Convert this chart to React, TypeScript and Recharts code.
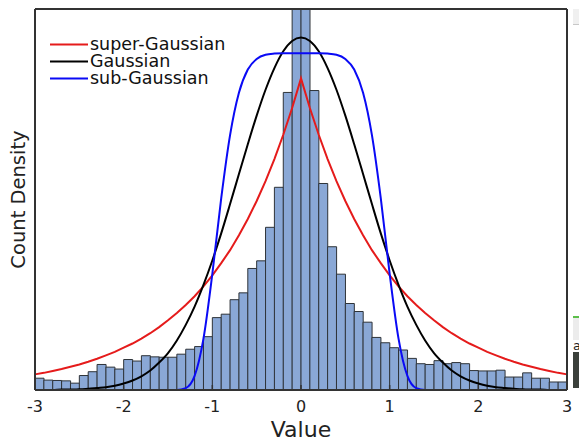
import { ComposedChart, Bar, Line, XAxis, YAxis, Legend } from 'recharts';

// histogram bins (centres) and their count densities
const binCenters = [
  -2.95, -2.85, -2.75, -2.65, -2.55, -2.45, -2.35, -2.25, -2.15, -2.05,
  -1.95, -1.85, -1.75, -1.65, -1.55, -1.45, -1.35, -1.25, -1.15, -1.05,
  -0.95, -0.85, -0.75, -0.65, -0.55, -0.45, -0.35, -0.25, -0.15, -0.05,
  0.05, 0.15, 0.25, 0.35, 0.45, 0.55, 0.65, 0.75, 0.85, 0.95,
  1.05, 1.15, 1.25, 1.35, 1.45, 1.55, 1.65, 1.75, 1.85, 1.95,
  2.05, 2.15, 2.25, 2.35, 2.45, 2.55, 2.65, 2.75, 2.85, 2.95,
];
const binCounts = [
  0.31, 0.26, 0.25, 0.24, 0.18, 0.38, 0.48, 0.67, 0.6, 0.55,
  0.8, 0.76, 0.9, 0.87, 0.86, 0.86, 0.94, 1.07, 1.14, 1.4,
  1.9, 1.99, 2.37, 2.55, 3.19, 3.39, 4.27, 5.32, 7.81, 11.5,
  11.5, 7.86, 5.42, 3.76, 3.04, 2.27, 2.06, 1.78, 1.38, 1.24,
  1.11, 1.05, 0.83, 0.69, 0.67, 0.77, 0.69, 0.72, 0.69, 0.51,
  0.5, 0.5, 0.52, 0.34, 0.34, 0.45, 0.31, 0.31, 0.21, 0.21,
];

// sample positions of the fitted curves
const curveX = [
  -3, -2.9, -2.8, -2.7, -2.6, -2.5, -2.4, -2.3, -2.2, -2.1,
  -2, -1.9, -1.8, -1.7, -1.6, -1.5, -1.4, -1.3, -1.2, -1.1,
  -1, -0.9, -0.8, -0.7, -0.6, -0.5, -0.4, -0.3, -0.2, -0.1,
  0,
  0.1, 0.2, 0.3, 0.4, 0.5, 0.6, 0.7, 0.8, 0.9, 1,
  1.1, 1.2, 1.3, 1.4, 1.5, 1.6, 1.7, 1.8, 1.9, 2,
  2.1, 2.2, 2.3, 2.4, 2.5, 2.6, 2.7, 2.8, 2.9, 3,
];
const superGaussian = [
  0.41, 0.45, 0.5, 0.55, 0.61, 0.67, 0.74, 0.82, 0.91, 1.0,
  1.11, 1.22, 1.35, 1.49, 1.65, 1.83, 2.02, 2.23, 2.46, 2.72,
  3.01, 3.33, 3.67, 4.06, 4.49, 4.96, 5.48, 6.06, 6.7, 7.4,
  8.18,
  7.4, 6.7, 6.06, 5.48, 4.96, 4.49, 4.06, 3.67, 3.33, 3.01,
  2.72, 2.46, 2.23, 2.02, 1.83, 1.65, 1.49, 1.35, 1.22, 1.11,
  1.0, 0.91, 0.82, 0.74, 0.67, 0.61, 0.55, 0.5, 0.45, 0.41,
];
const gaussian = [
  0, 0, 0, 0.01, 0.01, 0.02, 0.03, 0.05, 0.07, 0.11,
  0.17, 0.25, 0.36, 0.51, 0.72, 0.97, 1.3, 1.71, 2.19, 2.76,
  3.4, 4.11, 4.88, 5.67, 6.45, 7.2, 7.88, 8.45, 8.89, 9.16,
  9.25,
  9.16, 8.89, 8.45, 7.88, 7.2, 6.45, 5.67, 4.88, 4.11, 3.4,
  2.76, 2.19, 1.71, 1.3, 0.97, 0.72, 0.51, 0.36, 0.25, 0.17,
  0.11, 0.07, 0.05, 0.03, 0.02, 0.01, 0.01, 0, 0, 0,
];
const subGaussian = [
  0, 0, 0, 0, 0, 0, 0, 0, 0, 0,
  0, 0, 0, 0, 0, 0, 0, 0.05, 0.37, 1.35,
  3.05, 5.03, 6.69, 7.8, 8.41, 8.69, 8.8, 8.83, 8.84, 8.84,
  8.84,
  8.84, 8.84, 8.83, 8.8, 8.69, 8.41, 7.8, 6.69, 5.03, 3.05,
  1.35, 0.37, 0.05, 0, 0, 0, 0, 0, 0, 0,
  0, 0, 0, 0, 0, 0, 0, 0, 0, 0,
];

const xTicks = [-3, -2, -1, 0, 1, 2, 3];
const yTicks = [0, 1, 2, 3, 4, 5, 6, 7, 8, 9, 10];

const series = [
  { name: 'super-Gaussian', values: superGaussian, color: '#e51b1b', curve: 'linear' },
  { name: 'Gaussian', values: gaussian, color: '#000000', curve: 'monotone' },
  { name: 'sub-Gaussian', values: subGaussian, color: '#0a0af5', curve: 'monotone' },
];

const histData = binCenters.map((bin, i) => ({ bin, count: binCounts[i] }));
const toPoints = (vals: number[]) => curveX.map((x, i) => ({ x, y: vals[i] }));

const font = '"DejaVu Sans", "Liberation Sans", sans-serif';
const axisColor = '#333333';

const renderLegend = () => (
  <div style={{ fontFamily: font, fontSize: 17.5, color: '#111' }}>
    {series.map(s => (
      <div key={s.name} style={{ display: 'flex', alignItems: 'center', height: 17, whiteSpace: 'nowrap' }}>
        <svg width={38} height={17} style={{ display: 'block' }}>
          <line x1={0} y1={8.5} x2={38} y2={8.5} stroke={s.color} strokeWidth={2} />
        </svg>
        <span style={{ marginLeft: 2, lineHeight: '17px' }}>{s.name}</span>
      </div>
    ))}
  </div>
);

export default function App() {
  return (
    <div style={{ position: 'fixed', left: 0, top: 0, width: 579, height: 437, background: '#fff', overflow: 'hidden' }}>
      <ComposedChart
        width={579}
        height={437}
        data={histData}
        margin={{ top: 0, right: 0, bottom: 0, left: 0 }}
        barCategoryGap={0}
        barGap={0}
      >
        <XAxis
          xAxisId="v"
          dataKey="x"
          type="number"
          domain={[-3, 3]}
          ticks={xTicks}
          interval={0}
          orientation="bottom"
          height={47}
          tickSize={-5}
          tickMargin={16}
          axisLine={{ stroke: axisColor, strokeWidth: 2 }}
          tickLine={{ stroke: axisColor, strokeWidth: 1.5 }}
          tick={{ fontSize: 16, fontFamily: font, fill: '#222' }}
          label={{ value: 'Value', position: 'insideBottom', offset: 0, fontSize: 22, fontFamily: font, fill: '#222' }}
        />
        <XAxis xAxisId="bins" dataKey="bin" type="category" hide height={0} />
        <XAxis
          xAxisId="t"
          type="number"
          domain={[-3, 3]}
          ticks={xTicks}
          interval={0}
          orientation="top"
          height={9}
          tickSize={-5}
          tick={false}
          axisLine={{ stroke: axisColor, strokeWidth: 2 }}
          tickLine={{ stroke: axisColor, strokeWidth: 1.5 }}
        />
        <YAxis
          yAxisId="l"
          domain={[0, 10]}
          ticks={yTicks}
          interval={0}
          allowDataOverflow
          width={35}
          tickSize={-5}
          tick={false}
          axisLine={{ stroke: axisColor, strokeWidth: 2 }}
          tickLine={{ stroke: axisColor, strokeWidth: 1.5 }}
          label={{ value: 'Count Density', angle: -90, position: 'center', dx: 1, fontSize: 19.5, fontFamily: font, fill: '#222' }}
        />
        <YAxis
          yAxisId="r"
          orientation="right"
          domain={[0, 10]}
          ticks={yTicks}
          interval={0}
          width={12}
          tickSize={-5}
          tick={false}
          axisLine={{ stroke: axisColor, strokeWidth: 2 }}
          tickLine={{ stroke: axisColor, strokeWidth: 1.5 }}
        />
        <Bar
          xAxisId="bins"
          yAxisId="l"
          dataKey="count"
          fill="#8aa8d6"
          stroke="#2e3338"
          strokeWidth={1}
          isAnimationActive={false}
        />
        {series.map(s => (
          <Line
            key={s.name}
            xAxisId="v"
            yAxisId="r"
            data={toPoints(s.values)}
            dataKey="y"
            name={s.name}
            type={s.curve as 'linear' | 'monotone'}
            stroke={s.color}
            strokeWidth={2}
            dot={false}
            activeDot={false}
            isAnimationActive={false}
          />
        ))}
        <Legend
          content={renderLegend}
          layout="vertical"
          align="center"
          verticalAlign="middle"
          wrapperStyle={{ left: 50, top: 35.5, width: 'auto', height: 'auto' }}
        />
      </ComposedChart>
      {/* bits of another window visible along the right edge of the screenshot */}
      <div style={{ position: 'absolute', left: 573, top: 9, width: 6, height: 15, background: '#f0f0f0', borderBottom: '1px solid #c8c8c8' }} />
      <div style={{ position: 'absolute', left: 573, top: 316, width: 6, height: 2, background: '#5cbf4a' }} />
      <div style={{ position: 'absolute', left: 573, top: 318, width: 6, height: 22, background: '#ececec' }} />
      <div style={{ position: 'absolute', left: 573, top: 340, width: 6, height: 12, overflow: 'hidden', fontFamily: font, fontSize: 13, lineHeight: '12px', color: '#222' }}>a</div>
      <div style={{ position: 'absolute', left: 573, top: 352, width: 6, height: 36, background: '#3b403b' }} />
    </div>
  );
}
